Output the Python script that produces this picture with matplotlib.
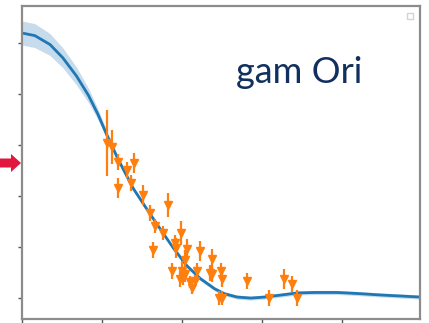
import numpy as np
import matplotlib
matplotlib.use('Agg')
import matplotlib.pyplot as plt
from matplotlib.patches import FancyArrow, Rectangle
from matplotlib.transforms import IdentityTransform

# fitted visibility curve
curve_x = [0.0, 0.16, 0.35, 0.51, 0.68, 0.83, 0.95, 1.06, 1.2, 1.39, 1.6, 1.73,
           1.89, 2.06, 2.23, 2.41, 2.53, 2.69, 2.86, 3.03, 3.24, 3.44, 3.65,
           3.94, 4.19, 4.49, 4.74, 4.98]
curve_y = [1.039, 1.029, 0.994, 0.942, 0.871, 0.795, 0.720, 0.640, 0.545, 0.430,
           0.330, 0.270, 0.197, 0.127, 0.076, 0.036, 0.017, 0.004, 0.0, 0.004,
           0.012, 0.020, 0.022, 0.022, 0.018, 0.012, 0.008, 0.004]
band_w = [0.047, 0.047, 0.043, 0.039, 0.035, 0.028, 0.021, 0.016, 0.012, 0.009,
          0.008, 0.008, 0.008, 0.008, 0.008, 0.008, 0.008, 0.008, 0.008, 0.008,
          0.008, 0.008, 0.008, 0.008, 0.008, 0.008, 0.008, 0.008]

# measured points
obs_x = [1.06, 1.125, 1.2, 1.31, 1.40, 1.2, 1.36, 1.51, 1.6, 1.825, 1.66, 1.76,
         1.64, 1.99, 1.925, 2.06, 2.225, 1.875, 2.0, 1.975, 2.04, 2.125, 2.16,
         2.19, 2.375, 2.375, 2.04, 2.01, 2.10, 2.49, 2.5, 2.46, 2.5, 2.81, 3.09,
         3.275, 3.375, 3.44, 2.35, 1.91]
obs_y = [0.608, 0.592, 0.533, 0.502, 0.529, 0.431, 0.451, 0.404, 0.333, 0.365,
         0.282, 0.255, 0.188, 0.255, 0.196, 0.192, 0.184, 0.106, 0.106, 0.075,
         0.094, 0.039, 0.067, 0.106, 0.153, 0.094, 0.149, 0.082, 0.063, 0.106,
         0.075, 0.0, 0.0, 0.067, 0.0, 0.075, 0.055, 0.0, 0.098, 0.216]
obs_err = [0.129, 0.067, 0.031, 0.031, 0.039, 0.039, 0.031, 0.039, 0.031, 0.047,
           0.027, 0.027, 0.031, 0.047, 0.039, 0.039, 0.039, 0.031, 0.039, 0.031,
           0.031, 0.024, 0.024, 0.031, 0.039, 0.031, 0.039, 0.031, 0.024, 0.031,
           0.031, 0.027, 0.027, 0.031, 0.031, 0.039, 0.031, 0.031, 0.031, 0.031]

fig = plt.figure(figsize=(4.29, 3.23), dpi=100)
ax = fig.add_axes([22/429, 1 - 319/323, 398/429, 313/323])

lo = np.array(curve_y) - np.array(band_w)
hi = np.array(curve_y) + np.array(band_w)
ax.fill_between(curve_x, lo, hi, color='#1f77b4', alpha=0.25, lw=0)
ax.plot(curve_x, curve_y, color='#1f77b4', lw=2)

ax.errorbar(obs_x, obs_y, yerr=obs_err, fmt='v', color='#ff7f0e',
            ms=6, elinewidth=1.6, capsize=0)

ax.set_xlim(0, 4.975)
ax.set_ylim(-0.082, 1.145)
ax.set_xticks([0, 1, 2, 3, 4])
ax.set_yticks([0, 0.2, 0.4, 0.6, 0.8, 1.0])
ax.tick_params(labelbottom=False, labelleft=False, direction='out',
               length=3, width=1, color='#555555')
for s in ax.spines.values():
    s.set_color('#8c8c8c')
    s.set_linewidth(1.6)

ax.text(0.538, 0.754, 'gam Ori', transform=ax.transAxes, fontsize=26,
        family='Lato', color='#12305f', va='baseline', ha='left')

# empty legend box in the corner
fig.add_artist(Rectangle((407, 304), 6, 6, transform=IdentityTransform(),
                         fill=False, edgecolor='#d4d4d4', lw=1))

# red pointer on the left
fig.add_artist(FancyArrow(0, 160, 21, 0, width=9, head_width=18, head_length=10,
                          length_includes_head=True, color='#e0173e', lw=0,
                          transform=IdentityTransform()))

fig.savefig('out.png', dpi=100)
